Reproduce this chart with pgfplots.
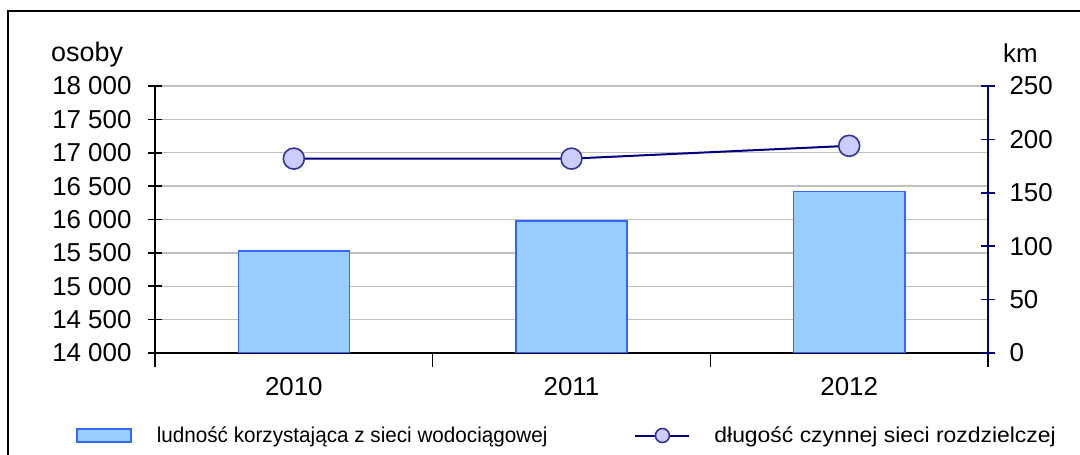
\documentclass[border=0pt]{standalone}
\usepackage{pgfplots}
\pgfplotsset{compat=1.18}
\usepackage{graphicx}
\usepackage{fontspec}
\setmainfont{Liberation Sans}
\definecolor{barfill}{HTML}{99CCFF}
\definecolor{baredge}{HTML}{3366FF}
\definecolor{navy}{HTML}{000080}
\definecolor{markfill}{HTML}{CCCCFF}
\definecolor{markedge}{HTML}{333399}
\definecolor{gridgray}{HTML}{C0C0C0}
\begin{document}
\begin{tikzpicture}
\useasboundingbox (0,0) rectangle (1080bp,455bp);
\draw[line width=1.6bp] (8bp,-10bp) |- (1100bp,444bp);
\node[anchor=base west, font=\fontsize{27}{30}\selectfont, inner sep=0] at (51bp,393bp) {osoby};
\node[anchor=base west, font=\fontsize{26}{30}\selectfont, inner sep=0] at (1003bp,392bp) {km};
\begin{axis}[
  at={(155bp,102bp)}, anchor=south west,
  scale only axis, width=833bp, height=267bp,
  xmin=-0.5, xmax=2.5, ymin=14000, ymax=18000,
  axis y line*=left, axis x line*=bottom,
  axis line style={line width=1.6bp, black},
  xtick={-0.5,0.5,1.5,2.5},
  x tick label as interval,
  xticklabels={2010,2011,2012},
  ytick={14000,14500,...,18000},
  tick align=center, major tick length=14bp,
  tick style={line width=1.6bp, black},
  ymajorgrids, major grid style={gridgray, line width=1.3bp},
  scaled ticks=false,
  /pgf/number format/.cd, 1000 sep={\ }, assume math mode=true,
  /pgfplots/.cd,
  tick label style={font=\fontsize{26}{30}\selectfont},
  yticklabel style={xshift=-13bp},
  xticklabel style={yshift=-7bp},
  ybar, bar width=0.4,
]
\addplot[fill=barfill, draw=baredge, line width=1.6bp] coordinates {(0,15527) (1,15975) (2,16418)};
\end{axis}
\begin{axis}[
  at={(155bp,102bp)}, anchor=south west,
  scale only axis, width=833bp, height=267bp,
  xmin=-0.5, xmax=2.5, ymin=0, ymax=250,
  axis y line*=right, axis x line=none,
  axis line style={line width=1.6bp, navy},
  ytick={0,50,...,250},
  tick align=center, major tick length=14bp,
  ytick style={line width=1.6bp, navy},
  /pgf/number format/assume math mode=true,
  tick label style={font=\fontsize{26}{30}\selectfont},
  yticklabel style={xshift=11bp},
  clip=false,
  legend columns=2,
  legend style={at={(-0.0948,-0.309)}, anchor=west, draw=none, fill=none,
    inner sep=0pt, font=\fontsize{21.5}{24}\selectfont,
    /tikz/every even column/.append style={column sep=85bp}},
  legend cell align=left,
]
\addlegendimage{legend image code/.code={\draw[fill=barfill, draw=baredge, line width=1.6bp] (0bp,-6.5bp) rectangle (54bp,6.5bp);}}
\addlegendentry{\hspace{23bp}\scalebox{0.965}[1]{ludność korzystająca z sieci wodociągowej}}
\addplot[navy, line width=2bp, mark=*, mark size=10.5bp,
  mark options={fill=markfill, draw=markedge, line width=1.6bp},
  legend image code/.code={\draw[navy, line width=2bp] (0bp,0bp) -- (54bp,0bp);
    \draw[fill=markfill, draw=markedge, line width=1.6bp] (27bp,0bp) circle (7bp);}]
  coordinates {(0,182) (1,182) (2,194)};
\addlegendentry{\hspace{22bp}\scalebox{1.07}[1]{długość czynnej sieci rozdzielczej}}
\end{axis}
\end{tikzpicture}
\end{document}
